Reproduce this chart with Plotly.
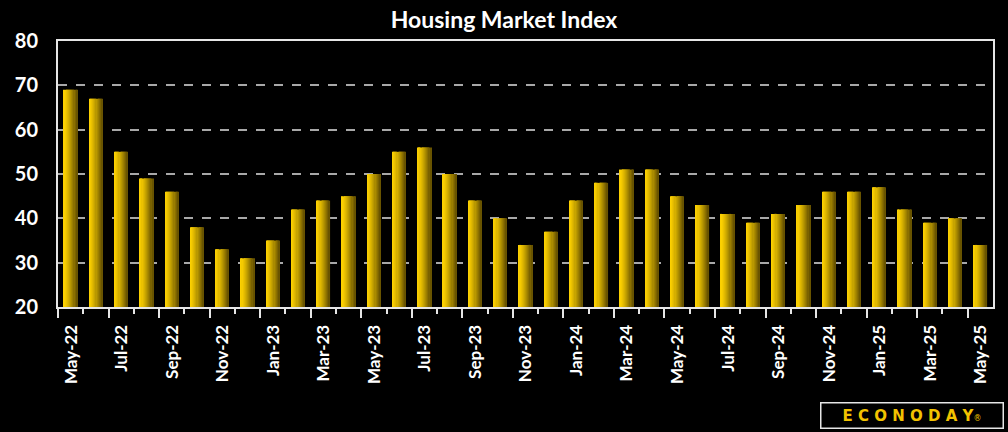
import plotly.graph_objects as go

months = ["May-22","Jun-22","Jul-22","Aug-22","Sep-22","Oct-22","Nov-22","Dec-22",
          "Jan-23","Feb-23","Mar-23","Apr-23","May-23","Jun-23","Jul-23","Aug-23",
          "Sep-23","Oct-23","Nov-23","Dec-23","Jan-24","Feb-24","Mar-24","Apr-24",
          "May-24","Jun-24","Jul-24","Aug-24","Sep-24","Oct-24","Nov-24","Dec-24",
          "Jan-25","Feb-25","Mar-25","Apr-25","May-25"]
values = [69, 67, 55, 49, 46, 38, 33, 31,
          35, 42, 44, 45, 50, 55, 56, 50,
          44, 40, 34, 37, 44, 48, 51, 51,
          45, 43, 41, 39, 41, 43, 46, 46,
          47, 42, 39, 40, 34]

n = len(months)
x = list(range(n))
label_text = months[::2]
# long ticks sit on the left boundary of each labelled month
long_ticks = [i - 0.5 for i in range(0, n, 2)]
short_ticks = [i + 0.5 for i in range(0, n - 1, 2)]

fig = go.Figure()

# horizontal gradient simulated with narrow overlaid strips
N = 12
bw = 0.53
c0 = (252, 208, 0)
c1 = (105, 84, 0)
for k in range(N):
    t = k / (N - 1)
    t2 = t ** 1.3
    col = tuple(int(round(c0[j] + (c1[j] - c0[j]) * t2)) for j in range(3))
    fig.add_trace(go.Bar(
        x=x, y=values,
        width=bw / N + 0.002,
        offset=-bw / 2 + k * bw / N,
        marker=dict(color="rgb(%d,%d,%d)" % col, line=dict(width=0)),
        showlegend=False, hoverinfo="skip",
    ))

W, H = 1008, 432
ML, MR, MT, MB = 58, 15, 41, 125
plot_w = W - ML - MR
cat_px = plot_w / n

fig.update_layout(
    barmode="overlay",
    width=W, height=H,
    paper_bgcolor="black", plot_bgcolor="black",
    margin=dict(l=ML, r=MR, t=MT, b=MB, autoexpand=False),
    title=dict(text="<b>Housing Market Index</b>", x=0.5, xanchor="center",
               y=0.953, yanchor="middle",
               font=dict(family="Lato, DejaVu Sans, sans-serif", size=23, color="white")),
    font=dict(family="Lato, DejaVu Sans, sans-serif", color="white"),
)

fig.update_xaxes(
    range=[-0.5, n - 0.5], automargin=False,
    tickmode="array", tickvals=long_ticks, ticktext=["<b>%s</b>" % s for s in label_text],
    ticklabelshift=int(round(cat_px / 2)),
    tickangle=-90, ticks="outside", ticklen=9, tickcolor="#e6e6e6", tickwidth=2,
    tickfont=dict(size=17, color="white"),
    showgrid=False, zeroline=False,
    showline=True, linecolor="#e6e6e6", linewidth=2, mirror=True,
    minor=dict(tickmode="array", tickvals=short_ticks,
               ticks="outside", ticklen=5, tickcolor="#e6e6e6", tickwidth=2, showgrid=False),
)
fig.update_yaxes(
    range=[20, 80], dtick=10, automargin=False,
    tickfont=dict(size=20, color="white"),
    tickprefix="<b>", ticksuffix="</b>",
    showgrid=True, gridcolor="#a8a8a8", griddash="dash", gridwidth=1.5,
    zeroline=False,
    showline=True, linecolor="#e6e6e6", linewidth=2, mirror=True,
    ticks="", ticklabelstandoff=14,
)

fig.add_annotation(
    xref="paper", yref="paper", x=0.913, y=-0.408, xanchor="center", yanchor="middle",
    text="<b>E C O N O D A Y</b><span style='font-size:8px'>®</span>", showarrow=False,
    font=dict(family="DejaVu Sans, sans-serif", size=15, color="#f2c200"),
    bordercolor="#e6e6e6", borderwidth=1.5, borderpad=2, bgcolor="black",
    width=177, height=20,
)

fig.write_html("out.html", config={"displayModeBar": False},
               post_script="document.body.style.margin='0';document.body.style.background='black';")
